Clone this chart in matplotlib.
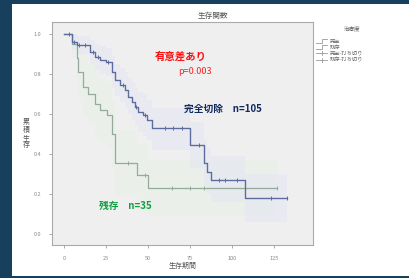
import matplotlib
matplotlib.use("Agg")
import matplotlib.pyplot as plt
from matplotlib.patches import Rectangle
from matplotlib.lines import Line2D

plt.rcParams['font.family'] = ['Noto Sans CJK JP', 'DejaVu Sans']

# Kaplan-Meier step data (time in months, survival)
complete_t = [0, 4.4, 7.4, 15.3, 18.3, 21.3, 24.9, 28.4, 30.2, 33.2, 36.2, 38.2, 40.2,
              42.1, 44.1, 47.1, 49.1, 52.1, 55.1, 75.0, 83.3, 85.3, 87.3, 107.8, 132.6]
complete_s = [1.0, 0.96, 0.943, 0.91, 0.885, 0.869, 0.86, 0.81, 0.77, 0.744, 0.719, 0.686,
              0.661, 0.636, 0.611, 0.595, 0.57, 0.528, 0.528, 0.445, 0.354, 0.312, 0.271,
              0.179, 0.179]
complete_hi = [1.0, 1.0, 0.99, 0.97, 0.95, 0.94, 0.93, 0.89, 0.85, 0.83, 0.81, 0.78, 0.76,
               0.73, 0.71, 0.70, 0.67, 0.63, 0.63, 0.56, 0.47, 0.43, 0.39, 0.30, 0.30]
complete_lo = [1.0, 0.92, 0.90, 0.85, 0.82, 0.80, 0.79, 0.73, 0.69, 0.66, 0.63, 0.60, 0.57,
               0.54, 0.51, 0.49, 0.47, 0.42, 0.42, 0.33, 0.24, 0.20, 0.16, 0.06, 0.06]
complete_cens_t = [3, 6, 9, 12, 17, 20, 26, 35, 43, 48, 60, 65, 70, 80, 92, 96, 103, 123, 132.6]

residual_t = [0, 4.4, 7.4, 8.3, 11.3, 14.3, 18.3, 21.3, 25.2, 28.2, 30.2, 32.2, 43.1, 50.1, 126.6]
residual_s = [1.0, 0.95, 0.877, 0.81, 0.736, 0.70, 0.65, 0.62, 0.595, 0.50, 0.354, 0.354,
              0.296, 0.229, 0.229]
residual_hi = [1.0, 1.0, 0.98, 0.94, 0.88, 0.85, 0.81, 0.78, 0.76, 0.67, 0.52, 0.52,
               0.45, 0.37, 0.37]
residual_lo = [1.0, 0.88, 0.77, 0.68, 0.59, 0.55, 0.49, 0.46, 0.43, 0.33, 0.19, 0.19,
               0.14, 0.09, 0.09]
residual_cens_t = [38, 48, 64, 75, 83, 126.6]

x_ticks = [0, 25, 50, 75, 100, 125]
y_ticks = [0.0, 0.2, 0.4, 0.6, 0.8, 1.0]
y_ticklabels = ["0.0", "0.2", "0.4", "0.6", "0.8", "1.0"]
legend_labels = ["完全", "残存", "完全-打ち切り", "残存-打ち切り"]


def surv_at(ts, ss, t):
    v = ss[0]
    for ti, si in zip(ts, ss):
        if ti <= t:
            v = si
    return v


W, H = 409, 278
fig = plt.figure(figsize=(W / 100, H / 100), dpi=100)
fig.patch.set_facecolor('#17405c')
fig.add_artist(Rectangle((12 / W, 2 / H), 1 - 12 / W, (276 - 4) / H,
                         transform=fig.transFigure, facecolor='white', edgecolor='none', zorder=0))

ax = fig.add_axes([52 / W, 1 - 245 / H, (313 - 52) / W, (245 - 22) / H])
ax.set_facecolor('#efefef')
ax.set_xlim(-7.4, 148.3)
ax.set_ylim(-0.053, 1.058)

c_col = '#5d6c9e'
r_col = '#94aa9a'
ax.fill_between(residual_t, residual_lo, residual_hi, step='post', color='#e2f1e2',
                alpha=0.35, lw=0, zorder=1)
ax.fill_between(complete_t, complete_lo, complete_hi, step='post', color='#dfe3f6',
                alpha=0.35, lw=0, zorder=1)
ax.step(complete_t, complete_s, where='post', color=c_col, lw=1.0, zorder=3)
ax.step(residual_t, residual_s, where='post', color=r_col, lw=0.9, zorder=2)
ax.plot(complete_cens_t, [surv_at(complete_t, complete_s, t) for t in complete_cens_t],
        linestyle='none', marker='|', ms=3, mew=0.7, color=c_col, zorder=4)
ax.plot(residual_cens_t, [surv_at(residual_t, residual_s, t) for t in residual_cens_t],
        linestyle='none', marker='|', ms=3, mew=0.7, color=r_col, zorder=4)

ax.set_xticks(x_ticks)
ax.set_xticklabels([str(v) for v in x_ticks])
ax.set_yticks(y_ticks)
ax.set_yticklabels(y_ticklabels)
ax.tick_params(labelsize=4, colors='#888888', length=2, width=0.5, pad=6)
for sp in ax.spines.values():
    sp.set_color('#aaaaaa')
    sp.set_linewidth(0.8)

fig.text(213 / W, 1 - 16 / H, "生存関数", ha='center', va='center', fontsize=5.5, color='#555555')
fig.text(183 / W, 1 - 266 / H, "生存期間", ha='center', va='center', fontsize=5, color='#555555')
for ch, y in zip("累積生存", [122, 130, 138, 145]):
    fig.text(26 / W, 1 - y / H, ch, ha='center', va='center', fontsize=5, color='#555555')

fig.text(181 / W, 1 - 57 / H, "有意差あり", ha='center', va='center', fontsize=7.5,
         color='#ff1010', fontweight='bold')
fig.text(195 / W, 1 - 72 / H, "p=0.003", ha='center', va='center', fontsize=6.5, color='#ff2020')
fig.text(223 / W, 1 - 109 / H, "完全切除　n=105", ha='center', va='center', fontsize=7,
         color='#102a60', fontweight='bold')
fig.text(125 / W, 1 - 206 / H, "残存　n=35", ha='center', va='center', fontsize=7,
         color='#10a040', fontweight='bold')

# legend
fig.text(352 / W, 1 - 29 / H, "治療度", ha='center', va='center', fontsize=4, color='#666666')
ys = [41, 47, 53, 60]
for i, (lab, y) in enumerate(zip(legend_labels, ys)):
    if i < 2:
        fig.add_artist(Line2D([316 / W, 322 / W, 322 / W, 327 / W],
                              [1 - (y + 2) / H, 1 - (y + 2) / H, 1 - (y - 2) / H, 1 - (y - 2) / H],
                              transform=fig.transFigure, color='#999999', lw=0.6))
    else:
        fig.add_artist(Line2D([316 / W, 327 / W], [1 - y / H, 1 - y / H],
                              transform=fig.transFigure, color='#999999', lw=0.6))
        fig.add_artist(Line2D([321.5 / W, 321.5 / W], [1 - (y - 2) / H, 1 - (y + 2) / H],
                              transform=fig.transFigure, color='#999999', lw=0.6))
    fig.text(330 / W, 1 - y / H, lab, ha='left', va='center', fontsize=3.8, color='#666666')

fig.savefig('out.png', dpi=100)
